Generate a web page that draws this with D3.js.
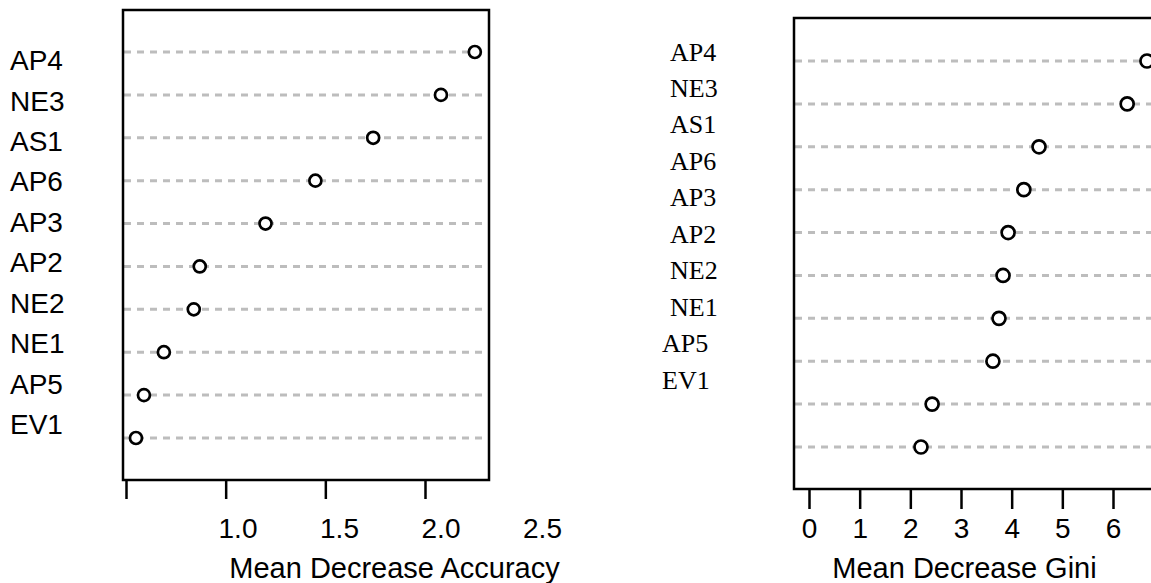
<!DOCTYPE html>
<html>
<head>
<meta charset="utf-8">
<script src="https://cdn.jsdelivr.net/npm/d3@7"></script>
<style>
  body { margin: 0; background: #fff; }
  svg { display: block; }
  .grid { stroke: #bdbdbd; stroke-width: 3; stroke-dasharray: 7,6; }
  .box { fill: none; stroke: #000; stroke-width: 2.5; }
  .dot { fill: #fff; stroke: #000; stroke-width: 2.7; }
  .axis path { display: none; }
  .axis line { stroke: #000; stroke-width: 2.5; }
</style>
</head>
<body>
<svg width="1151" height="583"></svg>
<script>
// variables, top to bottom
const features = ["AP4", "NE3", "AS1", "AP6", "AP3", "AP2", "NE2", "NE1", "AP5", "EV1"];
const accuracy = [2.25, 2.08, 1.74, 1.45, 1.20, 0.87, 0.84, 0.69, 0.59, 0.55];

// right panel carries its own (mislabelled) row order
const giniLabels = ["AP4", "NE3", "AS1", "AP6", "AP3", "AP2", "NE2", "NE1", "AP5", "EV1"];
const gini = [6.67, 6.28, 4.54, 4.24, 3.93, 3.83, 3.75, 3.63, 2.43, 2.21];

const accTicks = [0.5, 1.0, 1.5, 2.0];
const accTickLabels = [1.0, 1.5, 2.0, 2.5];
const giniTicks = [0, 1, 2, 3, 4, 5, 6];

const svg = d3.select("svg");

// ---------- left panel: Mean Decrease Accuracy ----------
const left = { x0: 123, x1: 489, y0: 10, y1: 480 };
const xL = d3.scaleLinear().domain([0.5, 2.0]).range([126, 425]);
const xLlab = d3.scaleLinear().domain([1.0, 2.5]).range([237.5, 542]);
const yL = d3.scalePoint().domain(features).range([52, 438]);
const yLlab = d3.scalePoint().domain(features).range([60, 424]);

const gL = svg.append("g");
gL.selectAll("line.grid")
  .data(features)
  .enter().append("line")
  .attr("class", "grid")
  .attr("x1", left.x0 + 1).attr("x2", 482)
  .attr("y1", d => yL(d)).attr("y2", d => yL(d));

gL.append("rect").attr("class", "box")
  .attr("x", left.x0).attr("y", left.y0)
  .attr("width", left.x1 - left.x0).attr("height", left.y1 - left.y0);

gL.selectAll("circle")
  .data(features.map((f, i) => ({ f, v: accuracy[i] })))
  .enter().append("circle")
  .attr("class", "dot")
  .attr("cx", d => xL(d.v)).attr("cy", d => yL(d.f)).attr("r", 6);

gL.append("g").attr("class", "axis")
  .attr("transform", `translate(0,${left.y1})`)
  .call(d3.axisBottom(xL).tickValues(accTicks).tickSize(19).tickFormat(""));

gL.append("g").attr("class", "axis")
  .attr("transform", `translate(0,${left.y1})`)
  .call(d3.axisBottom(xLlab).tickValues(accTickLabels).tickSize(0).tickPadding(38)
    .tickFormat(d3.format(".1f")))
  .call(g => g.selectAll("text").attr("fill", "#000")
    .style("font-family", "'Liberation Sans', Arial, sans-serif").style("font-size", "28px"));

gL.selectAll("text.rowlab")
  .data(features)
  .enter().append("text")
  .attr("class", "rowlab")
  .attr("x", 10).attr("y", d => yLlab(d)).attr("dy", "0.36em")
  .style("font-family", "'Liberation Sans', Arial, sans-serif").style("font-size", "28px")
  .text(d => d);

gL.append("text")
  .attr("x", 394.5).attr("y", 578).attr("text-anchor", "middle")
  .style("font-family", "'Liberation Sans', Arial, sans-serif").style("font-size", "29px")
  .text("Mean Decrease Accuracy");

// ---------- right panel: Mean Decrease Gini ----------
const right = { x0: 794, x1: 1161, y0: 18, y1: 489 };
const xR = d3.scaleLinear().domain([0, 6]).range([809, 1113]);
const yR = d3.scalePoint().domain(giniLabels).range([61, 447]);
const yRlab = d3.scalePoint().domain(giniLabels).range([52, 380]);
const labNudge = { AP5: -8, EV1: -8 };

const gR = svg.append("g");
gR.selectAll("line.grid")
  .data(giniLabels)
  .enter().append("line")
  .attr("class", "grid")
  .attr("x1", right.x0 + 1).attr("x2", 1151)
  .attr("y1", d => yR(d)).attr("y2", d => yR(d));

gR.append("rect").attr("class", "box")
  .attr("x", right.x0).attr("y", right.y0)
  .attr("width", right.x1 - right.x0).attr("height", right.y1 - right.y0);

gR.selectAll("circle")
  .data(giniLabels.map((f, i) => ({ f, v: gini[i] })))
  .enter().append("circle")
  .attr("class", "dot")
  .attr("cx", d => xR(d.v)).attr("cy", d => yR(d.f)).attr("r", 6.5);

gR.append("g").attr("class", "axis")
  .attr("transform", `translate(0,${right.y1})`)
  .call(d3.axisBottom(xR).tickValues(giniTicks).tickSize(20).tickPadding(9)
    .tickFormat(d3.format("d")))
  .call(g => g.selectAll("text").attr("fill", "#000")
    .style("font-family", "'Liberation Sans', Arial, sans-serif").style("font-size", "28px"));

gR.selectAll("text.rowlab")
  .data(giniLabels)
  .enter().append("text")
  .attr("class", "rowlab")
  .attr("x", d => 670 + (labNudge[d] || 0)).attr("y", d => yRlab(d)).attr("dy", "0.33em")
  .style("font-family", "'Liberation Serif', 'Times New Roman', serif").style("font-size", "26px")
  .text(d => d);

gR.append("text")
  .attr("x", 964.5).attr("y", 578).attr("text-anchor", "middle")
  .style("font-family", "'Liberation Sans', Arial, sans-serif").style("font-size", "29px")
  .text("Mean Decrease Gini");
</script>
</body>
</html>
